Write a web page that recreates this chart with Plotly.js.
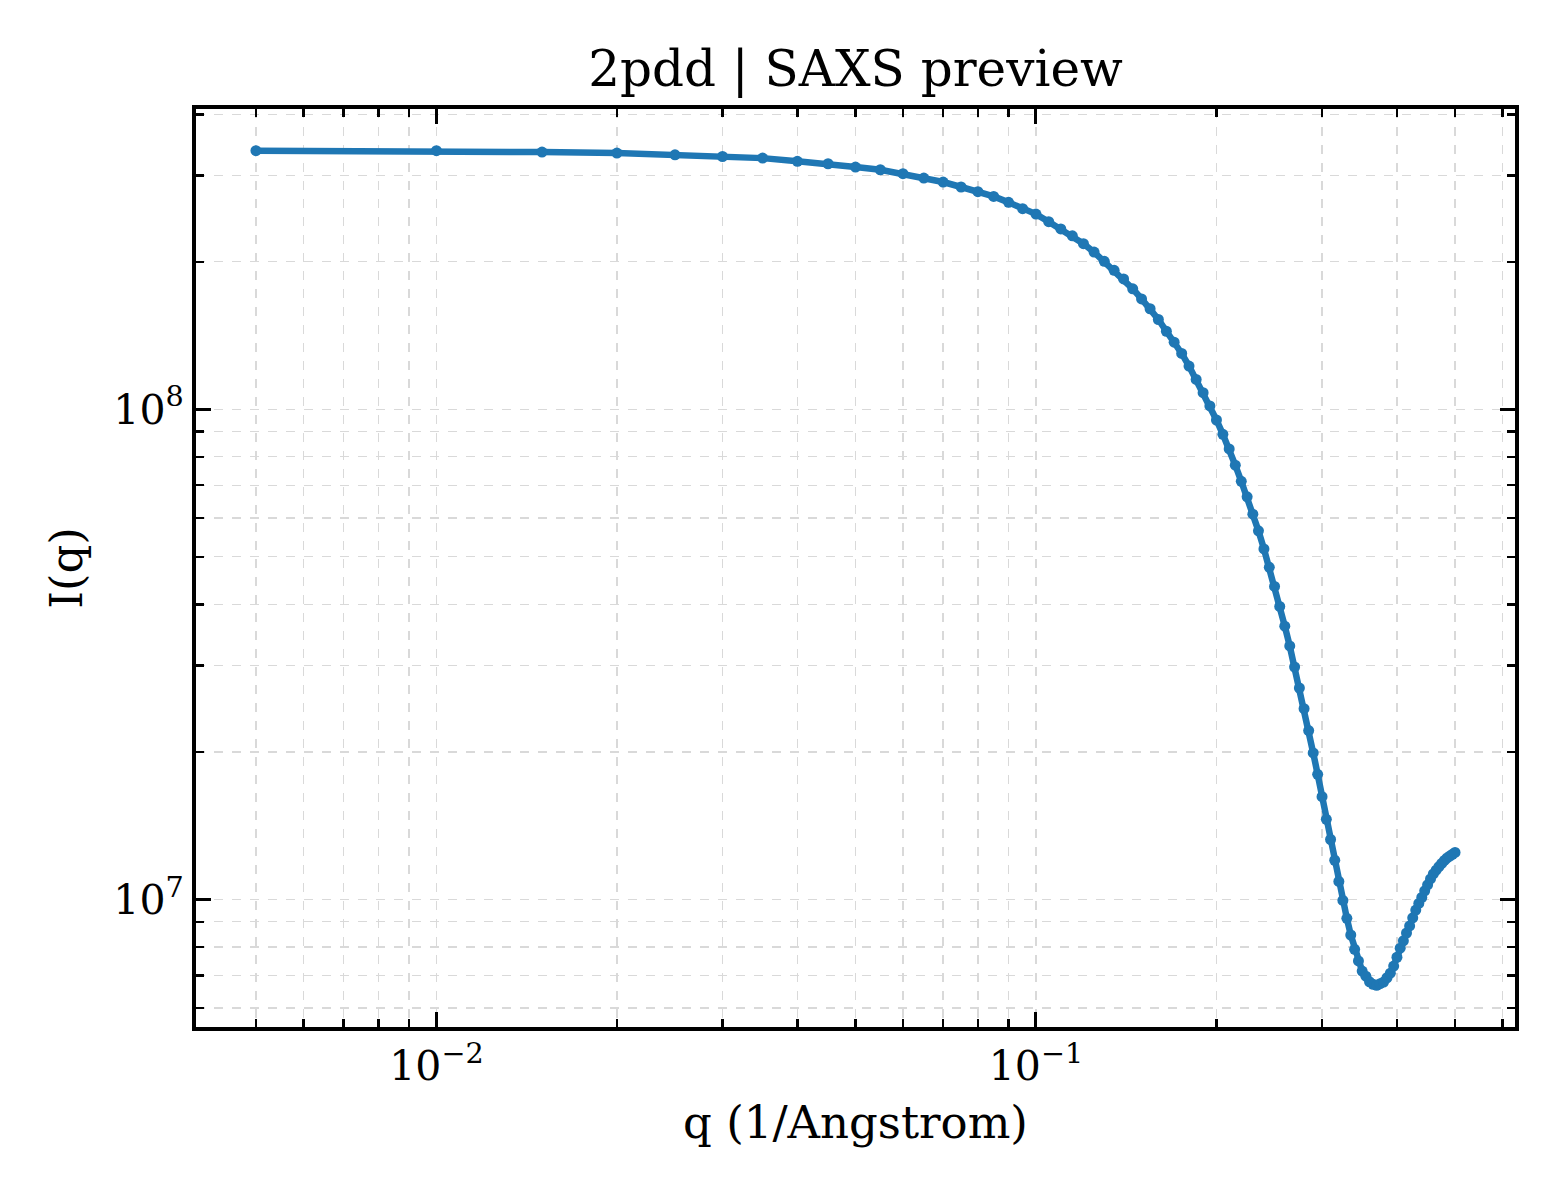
<!DOCTYPE html>
<html>
<head>
<meta charset="utf-8">
<script src="https://cdn.plot.ly/plotly-3.0.1.min.js"></script>
<style>
  html, body { margin: 0; padding: 0; background: #ffffff; }
  #plot { width: 1560px; height: 1200px; }
</style>
</head>
<body>
<div id="plot"></div>
<script>
// q grid (1/Angstrom)
const q = [
  0.005, 0.010, 0.015, 0.020, 0.025, 0.030, 0.035, 0.040, 0.045, 0.050,
  0.055, 0.060, 0.065, 0.070, 0.075, 0.080, 0.085, 0.090, 0.095, 0.100,
  0.105, 0.110, 0.115, 0.120, 0.125, 0.130, 0.135, 0.140, 0.145, 0.150,
  0.155, 0.160, 0.165, 0.170, 0.175, 0.180, 0.185, 0.190, 0.195, 0.200,
  0.205, 0.210, 0.215, 0.220, 0.225, 0.230, 0.235, 0.240, 0.245, 0.250,
  0.255, 0.260, 0.265, 0.270, 0.275, 0.280, 0.285, 0.290, 0.295, 0.300,
  0.305, 0.310, 0.315, 0.320, 0.325, 0.330, 0.335, 0.340, 0.345, 0.350,
  0.355, 0.360, 0.365, 0.370, 0.375, 0.380, 0.385, 0.390, 0.395, 0.400,
  0.405, 0.410, 0.415, 0.420, 0.425, 0.430, 0.435, 0.440, 0.445, 0.450,
  0.455, 0.460, 0.465, 0.470, 0.475, 0.480, 0.485, 0.490, 0.495, 0.500
];

// I(q), estimated from the plot
const intensity = [
  3.37e8, 3.37e8, 3.348e8, 3.333e8, 3.306e8, 3.280e8, 3.255e8, 3.207e8, 3.170e8, 3.121e8,
  3.082e8, 3.025e8, 2.964e8, 2.909e8, 2.842e8, 2.780e8, 2.719e8, 2.644e8, 2.567e8, 2.502e8,
  2.415e8, 2.334e8, 2.259e8, 2.178e8, 2.093e8, 2.004e8, 1.921e8, 1.845e8, 1.761e8, 1.680e8,
  1.604e8, 1.525e8, 1.443e8, 1.371e8, 1.300e8, 1.225e8, 1.151e8, 1.081e8, 1.016e8, 9.51e7,
  8.89e7, 8.30e7, 7.69e7, 7.13e7, 6.63e7, 6.11e7, 5.65e7, 5.19e7, 4.76e7, 4.35e7,
  3.96e7, 3.61e7, 3.29e7, 2.98e7, 2.70e7, 2.45e7, 2.21e7, 1.99e7, 1.80e7, 1.62e7,
  1.457e7, 1.325e7, 1.202e7, 1.088e7, 9.95e6, 9.15e6, 8.46e6, 7.91e6, 7.49e6, 7.14e6,
  6.97e6, 6.79e6, 6.71e6, 6.68e6, 6.73e6, 6.78e6, 6.92e6, 7.07e6, 7.31e6, 7.62e6,
  7.95e6, 8.23e6, 8.54e6, 8.83e6, 9.17e6, 9.51e6, 9.81e6, 1.009e7, 1.041e7, 1.071e7,
  1.101e7, 1.127e7, 1.147e7, 1.166e7, 1.184e7, 1.201e7, 1.215e7, 1.226e7, 1.236e7, 1.247e7
];

const xMajor = [0.01, 0.1];
const xMajorText = ["10<sup>\u22122</sup>", "10<sup>\u22121</sup>"];
const xMinor = [0.005, 0.006, 0.007, 0.008, 0.009,
                0.02, 0.03, 0.04, 0.05, 0.06, 0.07, 0.08, 0.09,
                0.2, 0.3, 0.4, 0.5, 0.6];
const yMajor = [1e7, 1e8];
const yMajorText = ["10<sup>7</sup>", "10<sup>8</sup>"];
const yMinor = [6e6, 7e6, 8e6, 9e6,
                2e7, 3e7, 4e7, 5e7, 6e7, 7e7, 8e7, 9e7,
                2e8, 3e8, 4e8];

// matplotlib-like 5% margins in log space
const lx = q.map(v => Math.log10(v));
const ly = intensity.map(v => Math.log10(v));
const xPad = 0.05 * (Math.max(...lx) - Math.min(...lx));
const yPad = 0.05 * (Math.max(...ly) - Math.min(...ly));

const gridColor = "#d9d9d9";

const trace = {
    x: q,
    y: intensity,
    mode: "lines+markers",
    type: "scatter",
    line: { color: "#1f77b4", width: 6.5 },
    marker: { color: "#1f77b4", size: 11 },
    hoverinfo: "skip"
};

function axisStyle(major, majorText, minor, range) {
    return {
        type: "log",
        range: range,
        tickmode: "array",
        tickvals: major,
        ticktext: majorText,
        ticks: "inside",
        ticklen: 15,
        tickwidth: 3,
        tickcolor: "#000000",
        showline: true,
        linecolor: "#000000",
        linewidth: 4,
        mirror: "allticks",
        showgrid: true,
        gridcolor: gridColor,
        gridwidth: 1.3,
        griddash: "dash",
        zeroline: false,
        tickfont: { family: "DejaVu Serif", size: 41, color: "#000000" },
        minor: {
            tickmode: "array",
            tickvals: minor,
            ticks: "inside",
            ticklen: 8,
            tickwidth: 2.5,
            tickcolor: "#000000",
            showgrid: true,
            gridcolor: gridColor,
            gridwidth: 1.3,
            griddash: "dash"
        }
    };
}

const xaxis = axisStyle(xMajor, xMajorText, xMinor,
    [Math.min(...lx) - xPad, Math.max(...lx) + xPad]);
xaxis.title = { text: "q (1/Angstrom)", font: { family: "DejaVu Serif", size: 45, color: "#000000" }, standoff: 18 };

const yaxis = axisStyle(yMajor, yMajorText, yMinor,
    [Math.min(...ly) - yPad, Math.max(...ly) + yPad]);
yaxis.title = { text: "I(q)", font: { family: "DejaVu Serif", size: 45, color: "#000000" }, standoff: 18 };

const layout = {
    width: 1560,
    height: 1200,
    font: { family: "DejaVu Serif", color: "#000000" },
    title: {
        text: "2pdd | SAXS preview",
        font: { family: "DejaVu Serif", size: 50, color: "#000000" },
        xref: "paper",
        x: 0.5,
        yref: "container",
        y: 1 - 68 / 1200,
        yanchor: "middle"
    },
    xaxis: xaxis,
    yaxis: yaxis,
    margin: { l: 196, r: 45, t: 109, b: 173, autoexpand: false },
    showlegend: false,
    paper_bgcolor: "#ffffff",
    plot_bgcolor: "#ffffff"
};

Plotly.newPlot("plot", [trace], layout, { displayModeBar: false, staticPlot: true });
</script>
</body>
</html>
